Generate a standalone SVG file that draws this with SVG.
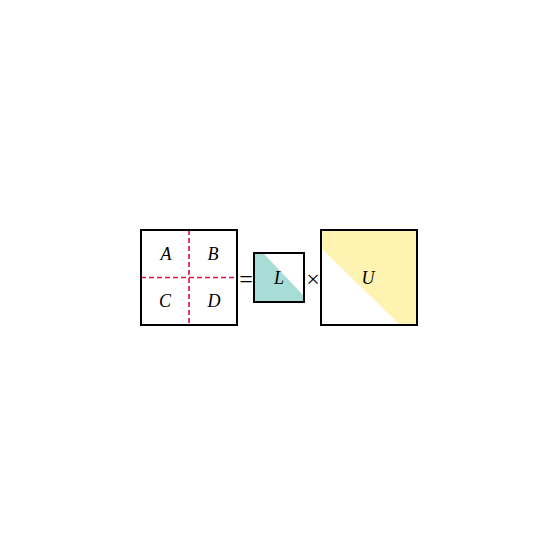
<svg xmlns="http://www.w3.org/2000/svg" width="557" height="557" viewBox="0 0 557 557">
<style>
.box{fill:none;stroke:#000;stroke-width:2}
.dash{stroke:#d80f3f;stroke-width:1.6;stroke-dasharray:5,3;fill:none}
.lbl{font-family:"Liberation Serif",serif;font-style:italic;font-size:18px;text-anchor:middle;fill:#000}
.op{font-family:"Liberation Serif",serif;font-size:24px;text-anchor:middle;fill:#000}
</style>
<rect width="557" height="557" fill="#fff"/>
<g id="matrix">
<g class="connectors">
<line class="dash" x1="189" y1="230" x2="189" y2="325"/>
<line class="dash" x1="141" y1="277.5" x2="237" y2="277.5"/>
</g>
<rect class="box" x="141" y="230" width="96" height="95"/>
<text class="lbl" x="166" y="260">A</text>
<text class="lbl" x="213" y="260">B</text>
<text class="lbl" x="165" y="307">C</text>
<text class="lbl" x="214" y="307">D</text>
</g>
<g id="eq"><text class="op" x="246" y="287">=</text></g>
<g id="L">
<polygon points="254,253 263,253 304,296 304,302 254,302" fill="#a8dcd6"/>
<rect class="box" x="254" y="253" width="50" height="49"/>
<text class="lbl" x="279" y="284">L</text>
</g>
<g id="times"><text class="op" x="313" y="287">×</text></g>
<g id="U">
<polygon points="321,230 417,230 417,325 400,325 321,248" fill="#fff3b2"/>
<rect class="box" x="321" y="230" width="96" height="95"/>
<text class="lbl" x="368" y="284">U</text>
</g>
</svg>
